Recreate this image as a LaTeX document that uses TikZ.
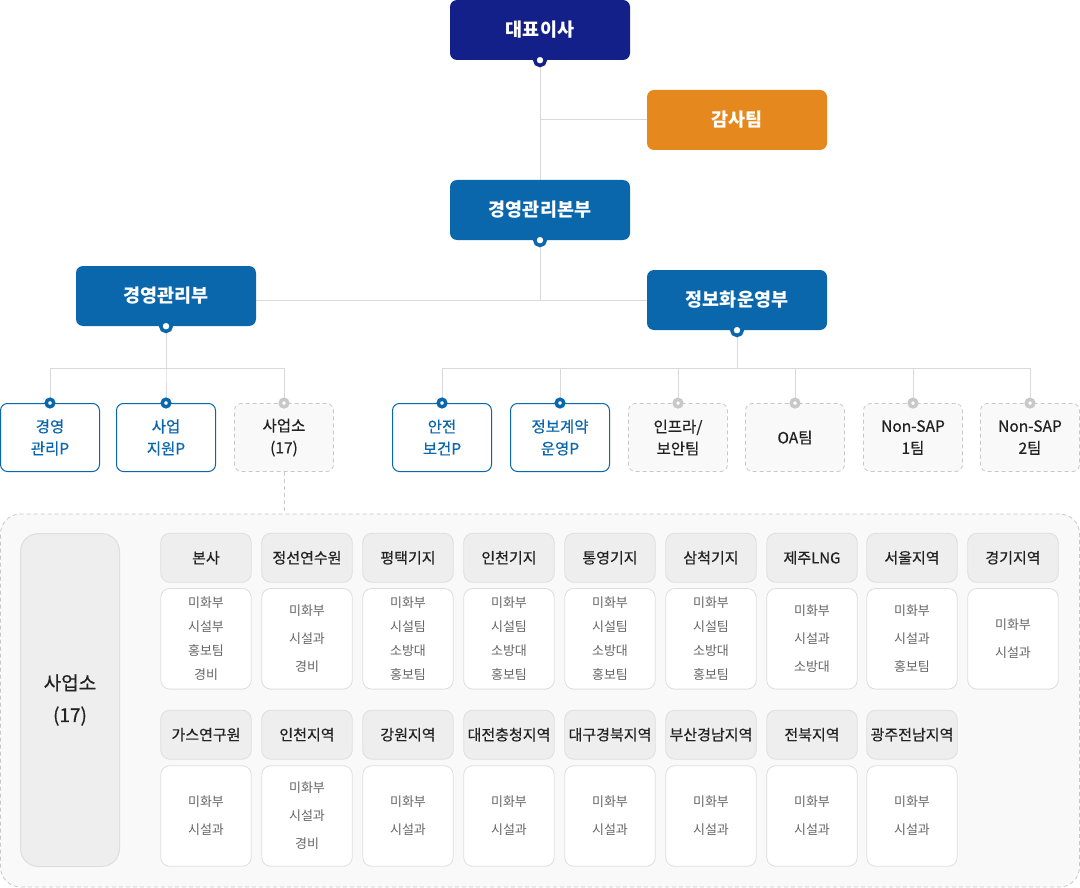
\documentclass[tikz,border=0pt]{standalone}
\usepackage{fontspec}
\setmainfont{Noto Sans CJK KR}
\newfontfamily\midfont{Noto Sans CJK KR}[FakeBold=0.6]
\usetikzlibrary{backgrounds}

\definecolor{ceoblue}{HTML}{14208A}
\definecolor{deptblue}{HTML}{0A67AB}
\definecolor{auditorange}{HTML}{E5891E}
\definecolor{linegray}{HTML}{D9D9D9}
\definecolor{dashgray}{HTML}{C8C8C8}
\definecolor{panelgray}{HTML}{F9F9F9}
\definecolor{headgray}{HTML}{EEEEEE}
\definecolor{cellline}{HTML}{DEDEDE}
\definecolor{bodytext}{HTML}{666666}
\definecolor{headtext}{HTML}{222222}

\tikzset{
  topbox/.style={rounded corners=7pt, minimum width=180pt, minimum height=60pt, inner sep=0pt,
    text=white, font=\bfseries\fontsize{18.5}{20}\selectfont},
  unitbox/.style={draw=deptblue, line width=1pt, fill=white, rounded corners=7pt,
    minimum width=99pt, minimum height=68pt, inner sep=0pt, align=center,
    text=deptblue, font=\midfont\fontsize{15.5}{22}\selectfont},
  teambox/.style={draw=dashgray, dash pattern=on 4pt off 3pt, line width=0.8pt, fill=panelgray,
    rounded corners=7pt, minimum width=99pt, minimum height=68pt, inner sep=0pt, align=center,
    text=headtext, font=\midfont\fontsize{15.5}{22}\selectfont},
  bigdot/.style={circle, draw=#1, line width=3.5pt, fill=white, inner sep=0pt, minimum size=10.5pt},
  smalldot/.style={circle, draw=#1, line width=3.5pt, fill=white, inner sep=0pt, minimum size=7.5pt},
  conn/.style={draw=linegray, line width=1pt},
  dashconn/.style={draw=dashgray, line width=0.8pt, dash pattern=on 4pt off 3pt},
  panel/.style={draw=dashgray, dash pattern=on 4pt off 3pt, line width=0.8pt, fill=panelgray,
    rounded corners=20pt, minimum width=1079pt, minimum height=373pt, inner sep=0pt},
  sitebox/.style={draw=cellline, line width=1pt, fill=headgray, rounded corners=18pt,
    minimum width=99pt, minimum height=333pt, inner sep=0pt, align=center,
    text=headtext, font=\midfont\fontsize{19}{32}\selectfont},
  sitehead/.style={draw=cellline, line width=0.8pt, fill=headgray, rounded corners=9pt,
    minimum width=90.5pt, minimum height=49pt, inner sep=0pt,
    text=headtext, font=\midfont\fontsize{15}{18}\selectfont},
  sitelist/.style={draw=cellline, line width=0.8pt, fill=white, rounded corners=9pt,
    minimum width=90.5pt, minimum height=100.6pt, inner sep=0pt, align=center,
    text=bodytext, font=\fontsize{13}{#1}\selectfont},
  sitelist/.default=28
}

\begin{document}
\begin{tikzpicture}[x=1pt, y=-1pt]
	\useasboundingbox (0,0) rectangle (1080,888);

	% top of the chart
	\node[topbox, fill=ceoblue] (ceo) at (540,30) {대표이사};
	\node[topbox, fill=auditorange] (audit) at (737,120) {감사팀};
	\node[topbox, fill=deptblue] (hq) at (540,210) {경영관리본부};
	\node[topbox, fill=deptblue] (mgmt) at (166,296) {경영관리부};
	\node[topbox, fill=deptblue] (info) at (737,300) {정보화운영부};
	\node[bigdot=ceoblue] (ceodot) at (ceo.south) {};
	\node[bigdot=deptblue] (hqdot) at (hq.south) {};
	\node[bigdot=deptblue] (mgmtdot) at (mgmt.south) {};
	\node[bigdot=deptblue] (infodot) at (info.south) {};

	% second level
	\node[unitbox] (mgmtp) at (50,437.5) {경영\\관리P};
	\node[unitbox] (bizp) at (166,437.5) {사업\\지원P};
	\node[teambox] (office) at (284,437.5) {사업소\\(17)};
	\node[unitbox] (safety) at (442,437.5) {안전\\보건P};
	\node[unitbox] (contract) at (560,437.5) {정보계약\\운영P};
	\node[teambox] (infra) at (678,437.5) {인프라/\\보안팀};
	\node[teambox] (oa) at (795,437.5) {OA팀};
	\node[teambox] (sapone) at (913,437.5) {Non-SAP\\1팀};
	\node[teambox] (saptwo) at (1030,437.5) {Non-SAP\\2팀};
	\node[smalldot=deptblue] (mgmtpdot) at (mgmtp.north) {};
	\node[smalldot=deptblue] (bizpdot) at (bizp.north) {};
	\node[smalldot=dashgray] (officedot) at (office.north) {};
	\node[smalldot=deptblue] (safetydot) at (safety.north) {};
	\node[smalldot=deptblue] (contractdot) at (contract.north) {};
	\node[smalldot=dashgray] (infradot) at (infra.north) {};
	\node[smalldot=dashgray] (oadot) at (oa.north) {};
	\node[smalldot=dashgray] (saponedot) at (sapone.north) {};
	\node[smalldot=dashgray] (saptwodot) at (saptwo.north) {};

	% sites panel
	\node[panel] (sites) at (540,700.5) {};
	\node[sitebox] (siteall) at (70,700) {사업소\\(17)};

	\node[sitehead] (bonsa) at (206,557.8) {본사};
	\node[sitehead] (jeongseon) at (307,557.8) {정선연수원};
	\node[sitehead] (pyeongtaek) at (408,557.8) {평택기지};
	\node[sitehead] (incheonbase) at (509,557.8) {인천기지};
	\node[sitehead] (tongyeong) at (610,557.8) {통영기지};
	\node[sitehead] (samcheok) at (711,557.8) {삼척기지};
	\node[sitehead] (jeju) at (812,557.8) {제주LNG};
	\node[sitehead] (seoul) at (912,557.8) {서울지역};
	\node[sitehead] (gyeonggi) at (1013,557.8) {경기지역};

	\node[sitelist=24] (bonsalist) at (206,638.8) {미화부\\시설부\\홍보팀\\경비};
	\node[sitelist] (jeongseonlist) at (307,638.8) {미화부\\시설과\\경비};
	\node[sitelist=24] (pyeongtaeklist) at (408,638.8) {미화부\\시설팀\\소방대\\홍보팀};
	\node[sitelist=24] (incheonbaselist) at (509,638.8) {미화부\\시설팀\\소방대\\홍보팀};
	\node[sitelist=24] (tongyeonglist) at (610,638.8) {미화부\\시설팀\\소방대\\홍보팀};
	\node[sitelist=24] (samcheoklist) at (711,638.8) {미화부\\시설팀\\소방대\\홍보팀};
	\node[sitelist] (jejulist) at (812,638.8) {미화부\\시설과\\소방대};
	\node[sitelist] (seoullist) at (912,638.8) {미화부\\시설과\\홍보팀};
	\node[sitelist] (gyeonggilist) at (1013,638.8) {미화부\\시설과};

	\node[sitehead] (gaslab) at (206,734.7) {가스연구원};
	\node[sitehead] (incheon) at (307,734.7) {인천지역};
	\node[sitehead] (gangwon) at (408,734.7) {강원지역};
	\node[sitehead] (daejeon) at (509,734.7) {대전충청지역};
	\node[sitehead] (daegu) at (610,734.7) {대구경북지역};
	\node[sitehead] (busan) at (711,734.7) {부산경남지역};
	\node[sitehead] (jeonbuk) at (812,734.7) {전북지역};
	\node[sitehead] (gwangju) at (912,734.7) {광주전남지역};

	\node[sitelist] (gaslablist) at (206,816) {미화부\\시설과};
	\node[sitelist] (incheonlist) at (307,816) {미화부\\시설과\\경비};
	\node[sitelist] (gangwonlist) at (408,816) {미화부\\시설과};
	\node[sitelist] (daejeonlist) at (509,816) {미화부\\시설과};
	\node[sitelist] (daegulist) at (610,816) {미화부\\시설과};
	\node[sitelist] (busanlist) at (711,816) {미화부\\시설과};
	\node[sitelist] (jeonbuklist) at (812,816) {미화부\\시설과};
	\node[sitelist] (gwangjulist) at (912,816) {미화부\\시설과};

	% connectors
	\coordinate (trunk) at (540,300);
	\coordinate (bus) at (0,368);
	\begin{scope}[on background layer]
		\draw[conn] (ceodot) -- (trunk);
		\draw[conn] (ceodot |- audit) -- (audit.west);
		\draw[conn] (mgmt.east |- trunk) -- (info.west |- trunk);
		\foreach \c in {mgmtpdot, bizpdot, officedot}
			\draw[conn] (mgmtdot) -- (mgmtdot |- bus) -| (\c);
		\foreach \c in {safetydot, contractdot, infradot, oadot, saponedot, saptwodot}
			\draw[conn] (infodot) -- (infodot |- bus) -| (\c);
		\draw[dashconn] (office.south) -- (office.south |- sites.north);
	\end{scope}
\end{tikzpicture}
\end{document}
